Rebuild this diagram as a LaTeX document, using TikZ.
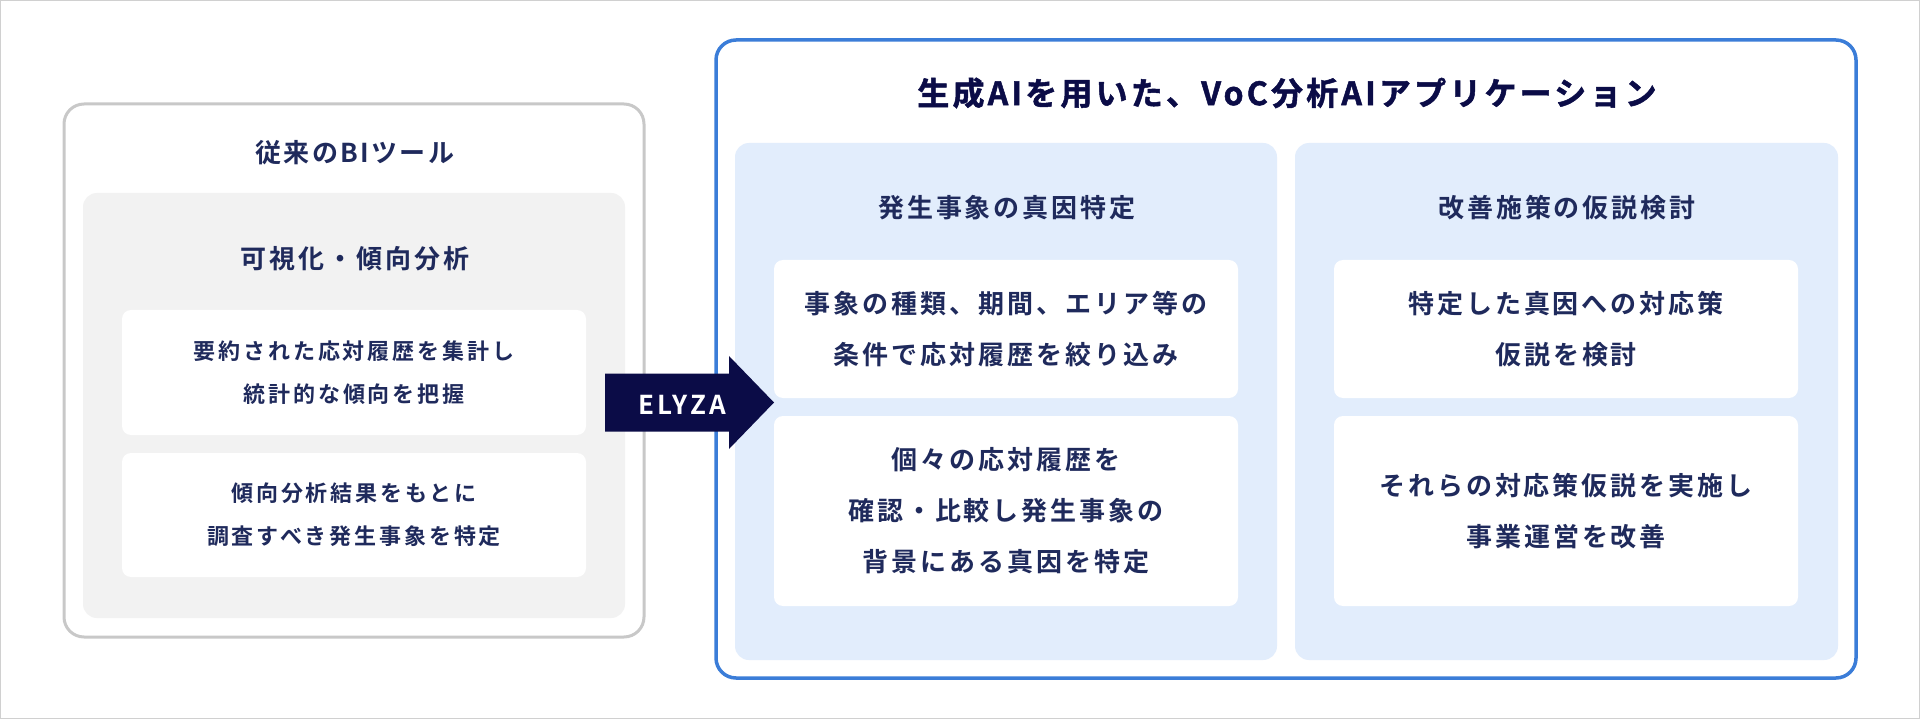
\documentclass[tikz,border=0pt]{standalone}
\usepackage{fontspec}
\newfontfamily\jptitle{Noto Sans CJK JP Bold}[LetterSpace=10, FakeBold=1.5]
\newfontfamily\jphead{Noto Sans CJK JP Bold}[LetterSpace=11.5]
\newfontfamily\jpbody{Noto Sans CJK JP Bold}[LetterSpace=11.5]
\newfontfamily\jpsmall{Noto Sans CJK JP Bold}[LetterSpace=13]
\newfontfamily\jplt{Noto Sans CJK JP Bold}[LetterSpace=9]
\newfontfamily\jplogo{Noto Sans CJK JP Bold}[LetterSpace=12]
\definecolor{navy}{HTML}{1F2A5C}
\definecolor{deepnavy}{HTML}{0B0C47}
\definecolor{bordergray}{HTML}{C8C8C8}
\definecolor{panelgray}{HTML}{F2F2F2}
\definecolor{bordblue}{HTML}{3B7DD8}
\definecolor{panelblue}{HTML}{E2EDFC}
\definecolor{framegray}{HTML}{D0D0D0}
\begin{document}
\begin{tikzpicture}[x=1pt,y=-1pt,
  outerbox/.style={rectangle, rounded corners=20pt, inner sep=0pt, outer sep=0pt},
  panel/.style={rectangle, rounded corners=14pt, inner sep=0pt, outer sep=0pt},
  card/.style={rectangle, rounded corners=9pt, fill=white, inner sep=0pt, outer sep=0pt,
    minimum width=464pt, text=navy, align=center},
  lcard/.style={card, font=\jpsmall\fontsize{22}{43}\selectfont},
  rcard/.style={card, font=\jpbody\fontsize{26}{51}\selectfont},
  heading/.style={text=navy, inner sep=0pt, align=center},
]
\useasboundingbox (0,0) rectangle (1920,719);
\draw[framegray, line width=1pt] (0.5,0.5) rectangle (1919.5,718.5);

% left: conventional BI tool
\node[outerbox, draw=bordergray, line width=3pt, fill=white,
  minimum width=580pt, minimum height=533pt] (left) at (354,370.5) {};
\node[heading, font=\jplt\fontsize{26}{30}\selectfont] (lefttitle) at (355,153) {従来のBIツール};
\node[panel, fill=panelgray, minimum width=542pt, minimum height=425pt] (lpanel) at (354,405.5) {};
\node[heading, font=\jphead\fontsize{26}{30}\selectfont] (lhead) at (355,258.5) {可視化・傾向分析};
\node[lcard, minimum height=125pt] (l1) at (354,372.5) {要約された応対履歴を集計し\\統計的な傾向を把握};
\node[lcard, minimum height=124pt] (l2) at (354,515) {傾向分析結果をもとに\\調査すべき発生事象を特定};

% right: generative AI app
\node[outerbox, draw=bordblue, line width=3.5pt, fill=white,
  minimum width=1140pt, minimum height=638pt] (right) at (1286,359) {};
\node[heading, text=deepnavy, font=\jptitle\fontsize{32}{36}\selectfont] (righttitle) at (1287,93) {生成AIを用いた、VoC分析AIアプリケーション};

\node[panel, fill=panelblue, minimum width=542pt, minimum height=517pt] (p1) at (1006,401.5) {};
\node[panel, fill=panelblue, minimum width=543pt, minimum height=517pt] (p2) at (1566.5,401.5) {};
\node[heading, font=\jphead\fontsize{26}{30}\selectfont] (p1head) at (1007,208) {発生事象の真因特定};
\node[heading, font=\jphead\fontsize{26}{30}\selectfont] (p2head) at (1567,208) {改善施策の仮説検討};

\node[rcard, minimum height=138pt] (p1a) at (1006,329) {事象の種類、期間、エリア等の\\条件で応対履歴を絞り込み};
\node[rcard, minimum height=190pt] (p1b) at (1006,511) {個々の応対履歴を\\確認・比較し発生事象の\\背景にある真因を特定};
\node[rcard, minimum height=138pt] (p2a) at (1566,329) {特定した真因への対応策\\仮説を検討};
\node[rcard, minimum height=190pt] (p2b) at (1566,511) {それらの対応策仮説を実施し\\事業運営を改善};

% ELYZA arrow
\coordinate (atail) at (605,402.5);
\coordinate (atip) at (774,402.5);
\fill[deepnavy] (atail) ++(0,-29) -- ++(124,0) -- ++(0,-17.5) -- (atip) -- ++(-45,46.5) -- ++(0,-17.5) -- ++(-124,0) -- cycle;
\node[text=white, inner sep=0pt, font=\jplogo\fontsize{26}{30}\selectfont] (elyza) at (682,404.5) {ELYZA};
\end{tikzpicture}
\end{document}
